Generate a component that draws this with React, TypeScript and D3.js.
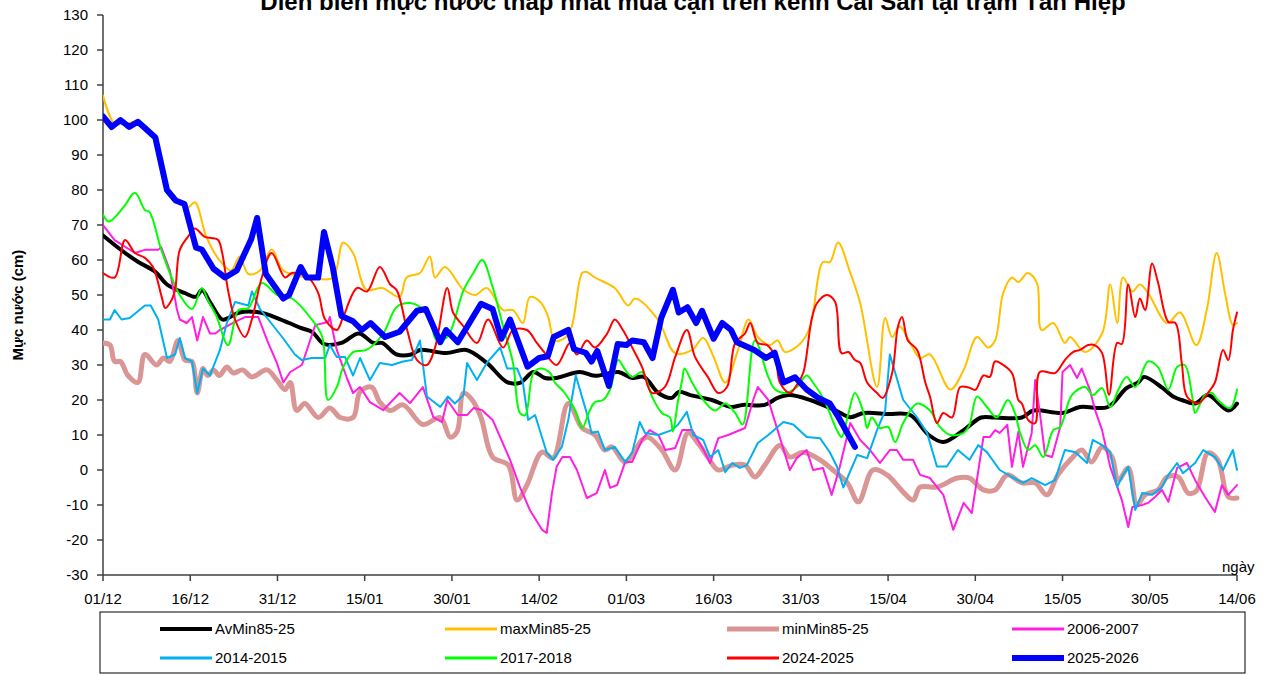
import React from 'react';
import * as d3 from 'd3';

// values are [day since 01/12, water level cm]
const xTickLabels = ['01/12', '16/12', '31/12', '15/01', '30/01', '14/02', '01/03', '16/03', '31/03', '15/04', '30/04', '15/05', '30/05', '14/06'];

const avMin = [[0,67],[3,63],[6,59.5],[9,56.6],[11,53],[14,50.6],[16,49.5],[17,51.4],[18.5,47.7],[20.5,43],[21.5,43.4],[23.5,45],[27,45],[29.5,43.7],[32,42],[34,40.6],[36,39.4],[38,36],[41,36.3],[44,39],[46.5,36.3],[48,36.3],[50.5,33],[53,33],[54.5,34.3],[59,33.4],[62.5,34.3],[66,30.6],[69.5,25.1],[71.7,24.9],[74,28],[76,26.3],[78,26.3],[82,28],[84.6,26.9],[88.6,28],[91,26.3],[93,26.6],[95.5,22],[97.8,20.6],[99,22.3],[101,21.4],[104.7,20],[108,18],[110,18.6],[113.8,18.6],[116,20.6],[118,21.4],[121.6,20],[126,17],[128.5,15.1],[130.8,16.3],[135,16],[138.8,15.7],[142,10],[144.5,8],[148,11.4],[151,15],[153.4,15],[158,15],[160,17],[165,16.3],[168,18],[172.8,18],[176,23.4],[178,25],[179,26.6],[182,23.7],[184,21],[185.5,20],[187.8,19],[190,21.4],[193.5,17],[195,19]];

const maxMin = [[0,107],[2,99],[4,99],[6,99.5],[9,95],[11,80],[13,77],[14.6,75],[15.8,76.5],[17.8,66.5],[20,60],[22,57],[23.5,61],[25,56],[27,57],[29,63],[31,57],[35,55],[37.5,54.5],[39.6,55],[41.3,65],[43,62],[45.3,51.5],[48,52],[51,49.5],[52.2,55],[54.5,56.3],[56.2,61],[57.1,55],[58.8,58],[62,51.5],[64,50],[66,52],[68.8,45.7],[70.5,45.7],[72.2,42],[73.4,49.4],[75.2,48],[76.5,44],[77.7,37],[79.4,37.7],[80.6,41],[82.4,56.3],[83.2,56.6],[84.6,55],[88,52],[90.3,47],[91.5,49],[95.4,43],[98.4,33.4],[101.3,34.3],[103.2,37.7],[105,32.3],[107,25],[109.2,34.3],[111,43],[112.6,38],[114.7,35.7],[116,37],[117.3,33.7],[120,36.3],[121.6,41],[123.8,59.4],[125,59.4],[126.4,65],[128.5,56.3],[130.2,47.7],[133.1,23.7],[134.5,43.4],[135.7,38],[137,41],[138.8,36.3],[140.5,32],[142.2,33],[145.7,23],[148,28.6],[150.3,38],[152.2,35],[153.4,37],[154.8,50.6],[156.3,55],[157.4,53.7],[159,56.3],[160.6,53.4],[161.4,40],[163.4,42],[165.4,36.3],[166.3,38],[168.9,33.7],[171.8,39],[173.2,53],[174.4,42],[175.4,55],[177,51],[178.3,53],[179.7,50.6],[183,42],[185.2,45],[188,35.7],[189.8,45.7],[191.5,62],[193,50],[194.3,41.4],[195,42]];

const minMin = [[0,36.3],[1.2,35.7],[2,31],[3,31],[4.3,27],[6,25],[7.2,33],[9.2,30],[10.4,32],[11.5,31],[12.9,37],[14.1,31.4],[15.3,31],[16.2,22],[17.2,29],[18,27],[19,28.6],[20,27],[21.3,29.4],[22.4,27.7],[24,28.6],[25.6,26.6],[28.2,28.6],[29.9,25.7],[31.3,23],[32.2,25],[33.3,17],[34.7,19],[37,15],[39,17.7],[40.8,15],[43,15],[44.2,22.3],[46.2,23.7],[47.6,19.4],[49.4,17],[51.6,18.6],[55,13],[58,15],[59.7,9.4],[60.9,11],[62,22],[63.5,20],[65,15],[67,3.7],[69.7,1.4],[71.2,-8.6],[72.9,-4.3],[75.5,5.1],[77.4,3.4],[80,19],[82.4,12],[84.6,10],[86.3,5.7],[87.5,6.6],[89.8,2.3],[92.7,8.6],[93.7,9.4],[96.1,5.7],[98.4,0],[100.6,10.6],[102.3,7.7],[104,3.7],[105.8,0],[108.2,1.4],[110.4,1.4],[112.1,-2],[113.8,1.4],[116.4,7],[118.1,3.7],[120.4,5.1],[123.3,2.9],[125.5,0],[128,-3.7],[129.9,-9.1],[132.4,0],[134.8,-1.4],[137.6,-6.3],[139.3,-8.6],[140.5,-4.9],[143.4,-4.9],[146.9,-2.3],[149,-2.3],[151.4,-5.7],[153.4,-5.7],[155.5,-1.4],[158,-3.7],[160.3,-3.7],[162.3,-7.1],[164.2,-1.4],[166.6,3.4],[168.3,5.7],[170,2.3],[171.8,6.6],[173.5,3.7],[174.6,-2.9],[176.3,0.6],[177.8,-10],[179.2,-7.1],[181.4,-5.7],[183,-2],[184.9,-2],[186.6,-6.6],[188,-6],[190,4.9],[191.7,2.9],[193.5,-7.7],[195,-8]];

const y2006 = [[0,70],[2,65.7],[5.5,62],[7.2,62.9],[9.5,62.9],[10,63.7],[11.5,57],[12.7,46],[13.2,43],[14.4,42],[15.3,43.7],[16.2,37],[17.2,43.7],[18.4,39],[19.3,39],[20.1,40],[22.7,42.3],[24.4,43.7],[26.7,43.7],[28.4,36.3],[29.9,30.6],[31,25],[32.2,28],[34.2,30],[36.5,41.4],[38.7,42.3],[39,43.7],[40.2,34.3],[42,26],[43,22],[44.2,23.7],[45.9,19.4],[48.2,17.1],[51,22],[52.8,19.1],[55,23.7],[56.8,15.1],[58.3,13.7],[59.2,20],[61,15.7],[62.6,15.7],[63.7,17.7],[65.2,17.1],[67,14.3],[70,2.9],[71.7,-4.9],[73.4,-11.4],[75.5,-17.1],[76.3,-18],[77.2,-6.6],[78,0.9],[79,3.7],[80.3,3.7],[81.5,0],[83.2,-8],[84.9,-6.6],[86.3,0],[87.2,-5.1],[88.4,-4.3],[89.8,2.3],[91,2.3],[92.7,8.6],[94,11.4],[95.5,10],[96.7,5.7],[98.4,6.3],[99.6,11.4],[101.3,11.4],[103,6.6],[104.4,2],[105.8,9.1],[107.5,10],[110.4,12],[111.8,20],[112.6,23.7],[114.4,20],[116,11.4],[118.1,0],[119.3,3.4],[121,5.7],[122.1,0],[123.8,0.6],[125.3,-7.1],[126.7,0.9],[128.5,13.4],[130.2,8.6],[131.9,5.7],[133.6,2],[135.3,5.7],[136.5,5.7],[137.6,2.9],[139.3,2.9],[140.5,-1.4],[142.2,-2.3],[144.5,-7.1],[146.2,-17.1],[148,-9.4],[149.4,-12.3],[151.4,9.4],[152.5,9.4],[153.4,11.4],[154.2,10.6],[155.5,12.9],[156.3,0.9],[157.4,10.9],[158.2,0.9],[159.7,10.6],[160.3,25.7],[161.1,16.3],[162,4.3],[163.2,3.7],[164.6,12.3],[165,28],[166.3,30],[167.5,26.3],[168.3,29],[169.7,22.9],[170.6,17.1],[171.8,11.4],[173.2,0.9],[174,-2.9],[175.2,-8.6],[176.3,-16.3],[177,-10.6],[178.7,-10],[179.7,-9.4],[180.9,-7.7],[182.1,-5.7],[183.2,-9.1],[184.7,0.6],[186.4,2],[187.8,-2.9],[189.5,-7.7],[191.2,-12],[192.4,-4.3],[193.5,-7.1],[195,-4.3]];

const y2014 = [[0,43],[1.2,43],[2,45.7],[3.2,43],[4.6,43.4],[7.2,47],[8.2,47],[9.5,43],[11,32],[12.4,33],[13.2,37.7],[14.1,32],[15.3,31],[16.2,22],[17.2,29],[18.4,27],[20.1,34.3],[21.3,42],[22.7,48],[25,47],[25.6,51],[27,46],[30.8,38],[33,33],[34.2,31.4],[35.9,32],[38.2,32],[39,35.7],[40.2,32.3],[41.6,32.3],[43,27],[44.2,32],[45.9,25.7],[47.6,30.6],[49.7,30],[51.6,31],[53.1,31.4],[54.5,37],[55.7,21],[58,18],[59.3,21],[60.5,19],[62,21.4],[62.6,30.6],[64.3,25.7],[66,30.6],[68.3,35],[69.5,29],[71.2,29],[72.2,25],[73.1,14.3],[74.3,15.7],[76.3,5],[77.4,2.9],[78.9,6.6],[80,14.3],[81.3,27],[83.4,15],[84,10.6],[85.1,11],[86.3,5.7],[88,6.6],[89.8,2.3],[91,5],[92.3,13.7],[93.2,10.6],[95.5,10],[97.8,11.4],[98.9,13],[100.4,16.6],[101.5,10],[103.2,8.6],[104.4,3.7],[105.8,5.7],[107,-0.6],[108.2,2],[109.5,0.6],[110.7,1.4],[112.6,7.7],[114.4,10],[116,12.3],[117,13.7],[118.7,13],[121,9.4],[123.3,9.1],[125,5],[126.2,1],[127.3,-5],[129.7,4.3],[131.4,3.4],[133.1,11.4],[134.5,17],[135.3,33],[137.6,20],[140,15],[141.7,10.6],[143.4,1],[145.1,1],[147,5.7],[149,2.9],[150.5,7.1],[152,5.1],[154.2,0],[156.3,-2],[158.2,-3.7],[159.7,-2.3],[162,-4.3],[163.7,-2.9],[165.4,5.7],[167.2,5.1],[169.2,2],[170.2,8.6],[171.8,7.1],[173.2,5.1],[174.4,-4.9],[175.2,-2],[176.3,0.9],[177.5,-11.4],[178.7,-6.6],[180.4,-7.1],[182.1,-4.9],[183.2,-1.4],[184.7,2],[185.7,-0.9],[187.8,2],[189.2,5.7],[191.2,3.7],[192.6,0],[194.3,5.7],[195,0]];

const y2017 = [[0,73],[1,71],[3.8,75.7],[5.2,79],[5.7,79],[7.2,74.3],[8,73.7],[10,63],[11.8,55],[13.2,50],[15.3,46],[17,52],[18,48.6],[19.5,44],[21.5,35.7],[23.3,45.7],[25,46.3],[27.3,53.4],[30,50],[32.5,49],[35.9,43],[37.7,38],[38.7,20],[40.2,23.7],[41.3,29.4],[43,33.7],[45.3,34.3],[48.2,39],[50.5,46.6],[52.8,47.7],[54.5,46.6],[56.2,43],[57.4,37],[59.2,38],[62,51.4],[63.7,56.3],[65.2,60],[67,52.3],[68.8,41],[70.5,30.6],[71.7,16.3],[72.6,15.7],[74,27.7],[75.2,29],[76.9,27.7],[77.7,25],[79.4,22],[81.2,17],[82.4,12],[83.7,17],[84.6,19.4],[86,20],[87.2,23],[88.6,31.4],[89.8,28.6],[91,26.6],[92.7,28],[94.4,21],[96.1,16.3],[97.5,15],[98,11],[98.9,20],[99.6,25.7],[100,29],[101.3,25],[103,20.5],[105.2,17],[107,19],[108.7,16.3],[110,13],[112.1,37],[114.4,26.6],[115.6,23],[117.5,22],[119.3,23.7],[121,27],[122.1,25],[124,20],[126.2,11.4],[127,9.4],[128.2,16.3],[129.3,22],[130.8,16.3],[131.4,12],[132.2,15],[133.6,12],[135,12.3],[136.2,8],[137.6,13.4],[140,19],[142.2,17],[143.9,12.3],[145.7,10],[148,10.6],[149,12.9],[150.3,21],[152,18],[153.7,15],[155.6,20],[156.8,16.3],[157.7,10.6],[159.1,5.7],[160.3,7.1],[161.7,3.7],[163.4,11.4],[164.6,12.3],[166.6,21.4],[168.9,23.7],[170.2,21.4],[171.8,23.4],[173.2,18],[174.6,22.9],[176,26.6],[177.5,23.7],[179.7,31],[181.4,29.4],[183.2,23],[184.7,29.4],[186,30],[187.3,21],[187.8,16.3],[189.5,21.4],[190.7,22],[191.7,20],[193.8,17.7],[195,23]];

const y2024 = [[0,56.3],[2,55],[3.8,65.7],[5.5,62],[7.2,60.6],[8.6,58],[10.1,49.4],[10.7,46.3],[11.8,48.6],[12.4,51.4],[13.2,62.9],[14.6,66.6],[15.8,69],[17.5,66.6],[18.7,66.3],[19.8,65.7],[20.5,62],[21.5,51.4],[22.7,43],[24.4,38],[25.6,43],[27.3,55],[29,62],[31.3,55],[32.5,56.3],[35.3,55],[37,50.6],[38.2,43],[40.2,40],[41.3,43.7],[43.7,52],[45.4,51],[47.6,58],[49.4,53],[50.5,51.4],[52.3,40],[54,31.4],[55.7,30],[57.1,35],[59.2,52],[60.2,45],[62,41],[64.3,36.3],[66.2,43],[68.8,35],[70.5,40],[72.9,40],[74.6,36.3],[76,33.4],[78,30],[80.3,36.3],[81.5,33],[83.2,37],[84.6,35],[86.7,39],[88,43],[89.4,40],[91,35],[92.7,29.4],[94.4,22],[96.6,23.7],[98.4,32.3],[100.4,40],[101.8,32.3],[104,26.6],[105.8,22],[107.3,23.7],[108.7,36.3],[110.4,39],[111.3,42],[112.6,36.3],[114.2,35.7],[115.6,32.3],[116.4,25],[118.1,22],[119.3,24.3],[120.4,27.7],[121.9,43.4],[122.8,47.7],[124.5,50],[125.9,48],[127,33.4],[128.2,33.7],[129.3,31.4],[130.2,30.6],[131.4,25],[133.1,22],[134.1,20.6],[135.7,27.7],[136.7,41],[137.4,43.7],[138.4,37],[140,34.3],[141.4,25],[142.2,21],[143.4,13.4],[144.5,16.3],[146,15],[147.4,23.7],[149,23.5],[150,22.9],[151.4,27],[152.5,26.6],[153.4,31],[154.8,30],[156.3,27.7],[157.4,20],[158,19],[159.1,14.3],[160.3,13.4],[161.1,28],[163.7,27.7],[165.4,31.4],[166.8,33.7],[168,34.3],[169.4,35.7],[170.5,35.7],[171.8,33.4],[173,21.5],[174.4,36.3],[175.2,36],[176.3,53],[177.5,43.7],[178.3,49],[179.2,45.7],[180.4,59],[181.4,53.7],[183.2,42.3],[184.4,42],[185.5,30.6],[186.4,21],[188.3,19],[190,22],[191.2,25],[192.6,34.3],[193.5,31.4],[194.3,40],[195,45]];

const y2025 = [[0,101],[1.5,98],[3,100],[4.5,98],[6,99.5],[9,95],[11,80],[12.5,77],[14,76],[16,63.5],[17,63],[19,57.5],[21,55],[23,57],[25.5,66],[26.5,72],[28,56],[31,49],[32,50],[34,58],[35,55],[37,55],[38,68],[39.5,58],[41,44],[43,42.5],[44.5,40],[46,42],[48.5,38],[51,39.5],[54,45.5],[55.5,46],[58,36.5],[59,40],[61,36.5],[65,47.5],[67,46],[68.5,37.5],[70,43],[73,29.5],[75,32],[76.5,32.5],[77.5,38],[80,40],[81,34.5],[83,33.5],[84,31],[85,34],[87,24],[88.5,36],[90,35.7],[91,37],[93,36.5],[94.5,32],[96,43.5],[98,51.5],[99,45],[100.5,46.5],[102,42],[103,45.5],[105,37.5],[106.5,42],[108,40],[109,36.5],[112,34.3],[114,32],[115.5,33.5],[117,25],[119,26.5],[121,23],[123,20.6],[125,19],[126.5,15],[129.3,6.6]];

const series = [
  { name: 'AvMin85-25', data: avMin, color: '#000000', width: 4, smooth: true },
  { name: 'maxMin85-25', data: maxMin, color: '#FFC000', width: 2, smooth: true },
  { name: 'minMin85-25', data: minMin, color: '#D99694', width: 5, smooth: true },
  { name: '2006-2007', data: y2006, color: '#FF1FE0', width: 2, smooth: false },
  { name: '2014-2015', data: y2014, color: '#00B0F0', width: 2, smooth: false },
  { name: '2017-2018', data: y2017, color: '#00FF00', width: 2, smooth: true },
  { name: '2024-2025', data: y2024, color: '#FF0000', width: 2, smooth: true },
  { name: '2025-2026', data: y2025, color: '#0000FF', width: 6, smooth: false },
];

const W = 1280;
const H = 674;
const plot = { left: 103, right: 1237, top: 15, bottom: 575 };
const font = '"Liberation Sans", Arial, sans-serif';

const x = d3.scaleLinear().domain([0, 195]).range([plot.left, plot.right]);
const y = d3.scaleLinear().domain([-30, 130]).range([plot.bottom, plot.top]);

export default function App() {
  const yTicks = d3.range(-30, 131, 10);
  const xTicks = xTickLabels.map((_, i) => i * 15);

  const legendCols = [160, 445, 727, 1012];
  const legendRows = [629, 658];

  return (
    <svg width={W} height={H} style={{ position: 'absolute', left: 0, top: 0, background: '#fff' }} fontFamily={font}>
      <defs>
        <clipPath id="plotClip">
          <rect x={plot.left} y={plot.top - 10} width={plot.right - plot.left + 4} height={plot.bottom - plot.top + 10} />
        </clipPath>
      </defs>
      <rect width={W} height={H} fill="#fff" />

      {/* title, clipped at the top edge as in the source */}
      <text x={693} y={10} textAnchor="middle" fontSize={24} fontWeight="bold">
        Diễn biến mực nước thấp nhất mùa cạn trên kênh Cái Sắn tại trạm Tân Hiệp
      </text>

      {/* y axis */}
      <line x1={plot.left} x2={plot.left} y1={plot.top} y2={plot.bottom} stroke="#404040" strokeWidth={1.5} />
      {yTicks.map((t) => (
        <g key={t}>
          <line x1={plot.left - 6} x2={plot.left} y1={y(t)} y2={y(t)} stroke="#404040" strokeWidth={1.5} />
          <text x={plot.left - 15} y={y(t) + 5} textAnchor="end" fontSize={15}>{t}</text>
        </g>
      ))}
      <text transform={`translate(23,305) rotate(-90)`} textAnchor="middle" fontSize={15} fontWeight="bold">
        Mực nước (cm)
      </text>

      {/* x axis */}
      <line x1={plot.left} x2={plot.right} y1={plot.bottom} y2={plot.bottom} stroke="#404040" strokeWidth={1.5} />
      {xTicks.map((t, i) => (
        <g key={t}>
          <line x1={x(t)} x2={x(t)} y1={plot.bottom} y2={plot.bottom + 6} stroke="#404040" strokeWidth={1.5} />
          <text x={x(t)} y={604} textAnchor="middle" fontSize={15}>{xTickLabels[i]}</text>
        </g>
      ))}
      <text x={1222} y={572} fontSize={15}>ngày</text>

      {/* series */}
      <g clipPath="url(#plotClip)">
        {series.map((s) => {
          const gen = d3
            .line<number[]>()
            .x((d) => x(d[0]))
            .y((d) => y(d[1]))
            .curve(s.smooth ? d3.curveCatmullRom.alpha(0.5) : d3.curveLinear);
          return (
            <path
              key={s.name}
              d={gen(s.data) || ''}
              fill="none"
              stroke={s.color}
              strokeWidth={s.width}
              strokeLinejoin="round"
              strokeLinecap="round"
            />
          );
        })}
      </g>

      {/* legend */}
      <rect x={100} y={612} width={1145} height={61} fill="none" stroke="#000" strokeWidth={1} />
      {series.map((s, i) => {
        const cx = legendCols[i % 4];
        const cy = legendRows[Math.floor(i / 4)];
        return (
          <g key={s.name}>
            <line x1={cx} x2={cx + 52} y1={cy} y2={cy} stroke={s.color} strokeWidth={Math.max(3, s.width)} />
            <text x={cx + 55} y={cy + 5} fontSize={15}>{s.name}</text>
          </g>
        );
      })}
    </svg>
  );
}
